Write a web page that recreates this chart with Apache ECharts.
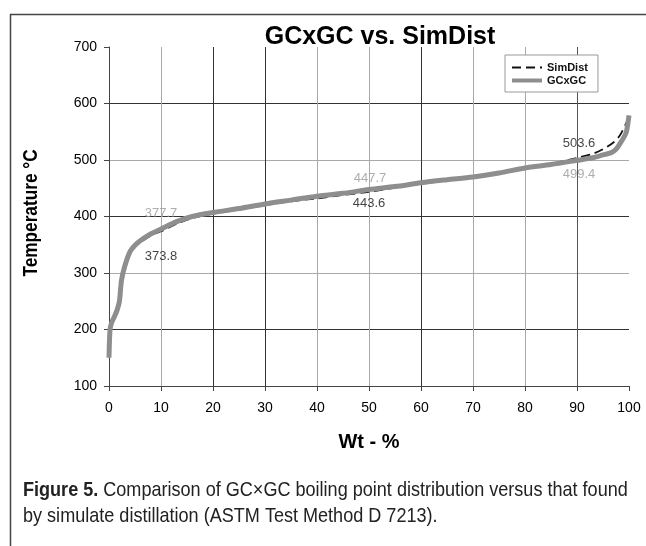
<!DOCTYPE html>
<html>
<head>
<meta charset="utf-8">
<script src="https://cdn.jsdelivr.net/npm/echarts@6/dist/echarts.min.js"></script>
<style>
html,body{margin:0;padding:0;background:#fff;}
#c{width:646px;height:546px;}
</style>
</head>
<body>
<div id="c"></div>
<script>
// ---- data ----
const simW = [0, 0.3, 0.6, 1, 1.5, 2, 2.4, 3, 4, 5, 6, 8, 10, 13, 16, 20, 25, 30, 35, 40, 45, 50, 55, 60, 65, 70, 75, 80, 85, 90, 93, 95, 97, 98.2, 99.3, 100];
const simT = [200, 208, 214, 222, 233, 250, 283, 307, 333, 346, 354, 366, 373.8, 387, 397, 405, 412, 420, 427, 432, 438, 443.6, 451, 458, 464, 470, 477, 485, 493, 503.6, 511, 519, 531, 543, 562, 575];
const gcW = [0, 0.2, 0.5, 1, 1.5, 2, 2.4, 3, 4, 5, 6, 8, 10, 13, 16, 20, 25, 30, 35, 40, 45, 50, 55, 60, 65, 70, 75, 80, 85, 90, 93, 95, 96.6, 97.5, 98.2, 99, 99.5, 100];
const gcT = [150, 200, 212, 222, 233, 250, 287, 311, 337, 349, 357, 369, 377.7, 391, 400, 407, 414, 422, 429, 436, 441, 447.7, 453, 459.6, 465, 470, 477, 486, 492, 499.4, 504, 509, 513, 519, 528, 540, 550, 579];
const labelW = [10, 50, 90];
const simLabelT = [373.8, 443.6, 503.6];
const gcLabelT = [377.7, 447.7, 499.4];
const xTicks = ['0','10','20','30','40','50','60','70','80','90','100'];
const yTicks = ['100','200','300','400','500','600','700'];
const seriesNames = ['SimDist', 'GCxGC'];

// ---- styles ----
const sans = 'Arial, "Liberation Sans", sans-serif';
const simOffsets = [[0, 25], [0, 12], [2, -15]];
const gcOffsets = [[0, -16], [1, -11], [2, 14]];

const chart = echarts.init(document.getElementById('c'), null, {renderer: 'canvas'});

function labelSeries(vals, offsets, color) {
  return {
    type: 'scatter',
    symbolSize: 0,
    silent: true,
    z: 5,
    data: labelW.map((w, i) => ({
      value: [w, vals[i]],
      label: {show: true, position: 'inside', offset: offsets[i],
        formatter: () => vals[i].toFixed(1),
        color: color, fontSize: 13, fontFamily: sans}
    }))
  };
}

const option = {
  animation: false,
  backgroundColor: '#fff',
  grid: {left: 109, right: 17, top: 47, bottom: 160, containLabel: false},
  legend: {
    orient: 'vertical',
    left: 505, top: 55,
    padding: [7, 10, 6, 5],
    itemGap: 2,
    itemWidth: 30, itemHeight: 12,
    borderColor: '#999', borderWidth: 1, backgroundColor: '#fff',
    itemStyle: {opacity: 0},
    data: [
      {name: seriesNames[0]},
      {name: seriesNames[1], lineStyle: {width: 4}}
    ],
    textStyle: {fontFamily: sans, fontWeight: 'bold', fontSize: 11, color: '#111'}
  },
  xAxis: {
    type: 'value', min: 0, max: 100, interval: 10,
    axisLine: {show: true, lineStyle: {color: '#444', width: 1}},
    axisTick: {show: true, length: 5, lineStyle: {color: '#444'}},
    axisLabel: {color: '#000', fontSize: 14, fontFamily: sans, margin: 15,
      formatter: (v) => xTicks[Math.round(v / 10)]},
    splitLine: {show: true, lineStyle: {width: 1,
      color: ['#444','#aaa','#333','#333','#aaa','#aaa','#333','#aaa','#aaa','#555','rgba(0,0,0,0)']}}
  },
  yAxis: {
    type: 'value', min: 100, max: 700, interval: 100,
    axisLine: {show: true, lineStyle: {color: '#444', width: 1}},
    axisTick: {show: true, length: 5, lineStyle: {color: '#444'}},
    axisLabel: {color: '#000', fontSize: 14, fontFamily: sans, margin: 12,
      formatter: (v) => yTicks[Math.round((v - 100) / 100)]},
    splitLine: {show: true, lineStyle: {width: 1,
      color: ['#444','#333','#aaa','#333','#aaa','#333','rgba(0,0,0,0)']}}
  },
  series: [
    {
      name: seriesNames[0], type: 'line', symbol: 'none', smooth: 0.3, z: 2,
      lineStyle: {color: '#111', width: 1.8, type: [9, 5]},
      itemStyle: {color: '#111'},
      data: simW.map((w, i) => [w, simT[i]])
    },
    {
      name: seriesNames[1], type: 'line', symbol: 'none', smooth: 0.3, z: 3,
      lineStyle: {color: '#8e8e8e', width: 5},
      itemStyle: {color: '#8e8e8e'},
      data: gcW.map((w, i) => [w, gcT[i]])
    },
    labelSeries(simLabelT, simOffsets, '#111'),
    labelSeries(gcLabelT, gcOffsets, '#9a9a9a')
  ],
  graphic: [
    {type: 'line', shape: {x1: 10.5, y1: 14, x2: 10.5, y2: 546}, style: {stroke: '#444', lineWidth: 1.5}, silent: true},
    {type: 'line', shape: {x1: 10, y1: 14.5, x2: 646, y2: 14.5}, style: {stroke: '#444', lineWidth: 1.5}, silent: true},
    {type: 'text', x: 380, y: 37, silent: true,
      style: {text: 'GCxGC vs. SimDist', fill: '#000', textAlign: 'center', textVerticalAlign: 'middle',
        font: 'bold 25px ' + sans}},
    {type: 'text', x: 31, y: 213, rotation: Math.PI / 2, scaleX: 0.82, silent: true,
      style: {text: 'Temperature °C', fill: '#000', textAlign: 'center', textVerticalAlign: 'middle',
        font: 'bold 21px ' + sans}},
    {type: 'text', x: 369, y: 442, scaleX: 0.95, silent: true,
      style: {text: 'Wt - %', fill: '#000', textAlign: 'center', textVerticalAlign: 'middle',
        font: 'bold 21px ' + sans}},
    {type: 'text', x: 23, y: 477, scaleX: 0.86, silent: true,
      style: {
        text: '{b|Figure 5.} {r|Comparison of GC×GC boiling point distribution versus that found}\n{r|by simulate distillation (ASTM Test Method D 7213).}',
        fill: '#222',
        font: '21px ' + sans,
        lineHeight: 26,
        rich: {
          b: {fontWeight: 'bold', fontSize: 21, fontFamily: sans, fill: '#222', lineHeight: 26},
          r: {fontWeight: 'normal', fontSize: 21, fontFamily: sans, fill: '#222', lineHeight: 26}
        }
      }}
  ]
};
chart.setOption(option);
</script>
</body>
</html>
